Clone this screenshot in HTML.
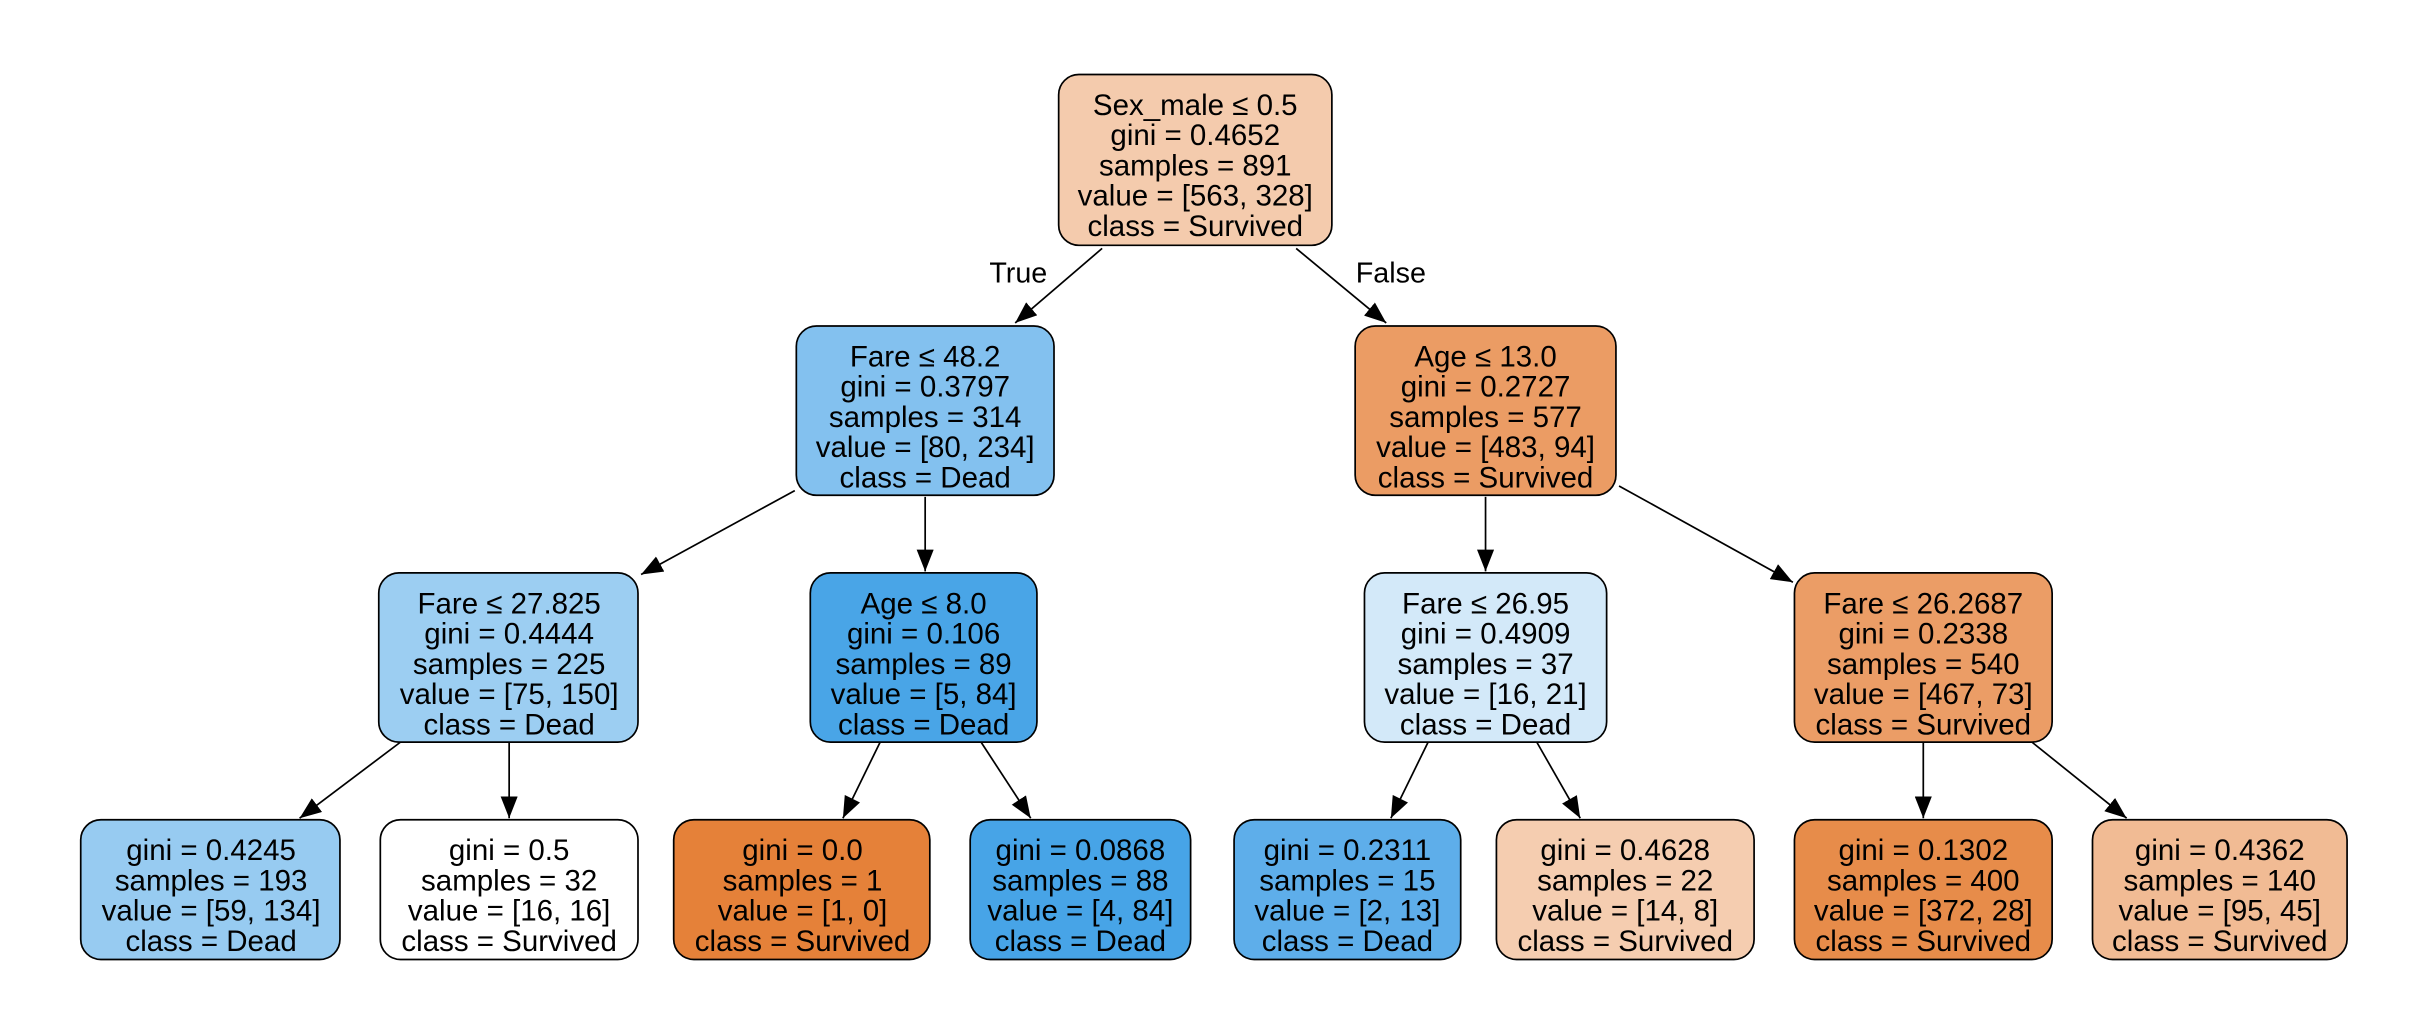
<!DOCTYPE html>
<html><head><meta charset="utf-8"><style>html,body{margin:0;padding:0;background:#fff}svg{display:block}</style></head><body>
<svg width="2434" height="1034" viewBox="0 0 1568 666" preserveAspectRatio="none" xmlns="http://www.w3.org/2000/svg">
<defs><marker id="a" viewBox="0 0 14 11" refX="14" refY="5.5" markerWidth="14" markerHeight="11" markerUnits="userSpaceOnUse" orient="auto"><path d="M0,0L14,5.5L0,11z" fill="#000"/></marker></defs>
<g stroke="#000" stroke-width="1.1" marker-end="url(#a)">
<line x1="710" y1="160" x2="654" y2="208"/>
<line x1="835" y1="160" x2="893" y2="208"/>
<line x1="512" y1="316" x2="413" y2="370"/>
<line x1="596" y1="320" x2="596" y2="368"/>
<line x1="957" y1="320" x2="957" y2="368"/>
<line x1="1043" y1="313" x2="1155" y2="375"/>
<line x1="258" y1="478" x2="193" y2="527"/>
<line x1="328" y1="478" x2="328" y2="527"/>
<line x1="567" y1="478" x2="543" y2="527"/>
<line x1="632" y1="478" x2="664" y2="527"/>
<line x1="920" y1="478" x2="896" y2="527"/>
<line x1="990" y1="478" x2="1018" y2="527"/>
<line x1="1239" y1="478" x2="1239" y2="527"/>
<line x1="1309" y1="478" x2="1370" y2="527"/>
</g>
<g font-family="Liberation Sans, sans-serif" font-size="18.5" text-anchor="middle" fill="#000">
<text x="656" y="182">True</text><text x="896" y="182">False</text>
</g>
<g stroke="#000" stroke-width="1.1">
<rect x="682" y="48" width="176" height="110" rx="13" fill="#f4cbad"/>
<rect x="513" y="210" width="166" height="109" rx="13" fill="#83c1ef"/>
<rect x="873" y="210" width="168" height="109" rx="13" fill="#eb9c64"/>
<rect x="244" y="369" width="167" height="109" rx="13" fill="#9ccef2"/>
<rect x="522" y="369" width="146" height="109" rx="13" fill="#49a5e7"/>
<rect x="879" y="369" width="156" height="109" rx="13" fill="#d3e9f9"/>
<rect x="1156" y="369" width="166" height="109" rx="13" fill="#eb9d66"/>
<rect x="52" y="528" width="167" height="90" rx="13" fill="#97cbf1"/>
<rect x="245" y="528" width="166" height="90" rx="13" fill="#ffffff"/>
<rect x="434" y="528" width="165" height="90" rx="13" fill="#e58139"/>
<rect x="625" y="528" width="142" height="90" rx="13" fill="#47a4e7"/>
<rect x="795" y="528" width="146" height="90" rx="13" fill="#5eaeea"/>
<rect x="964" y="528" width="166" height="90" rx="13" fill="#f5cdb0"/>
<rect x="1156" y="528" width="166" height="90" rx="13" fill="#e78c4a"/>
<rect x="1348" y="528" width="164" height="90" rx="13" fill="#f1bb94"/>
</g>
<g font-family="Liberation Sans, sans-serif" font-size="19" text-anchor="middle" fill="#000">
<text x="770" y="74">Sex_male ≤ 0.5</text><text x="770" y="93.5">gini = 0.4652</text><text x="770" y="113">samples = 891</text><text x="770" y="132.5">value = [563, 328]</text><text x="770" y="152">class = Survived</text>
<text x="596" y="236">Fare ≤ 48.2</text><text x="596" y="255.5">gini = 0.3797</text><text x="596" y="275">samples = 314</text><text x="596" y="294.5">value = [80, 234]</text><text x="596" y="314">class = Dead</text>
<text x="957" y="236">Age ≤ 13.0</text><text x="957" y="255.5">gini = 0.2727</text><text x="957" y="275">samples = 577</text><text x="957" y="294.5">value = [483, 94]</text><text x="957" y="314">class = Survived</text>
<text x="328" y="395">Fare ≤ 27.825</text><text x="328" y="414.5">gini = 0.4444</text><text x="328" y="434">samples = 225</text><text x="328" y="453.5">value = [75, 150]</text><text x="328" y="473">class = Dead</text>
<text x="595" y="395">Age ≤ 8.0</text><text x="595" y="414.5">gini = 0.106</text><text x="595" y="434">samples = 89</text><text x="595" y="453.5">value = [5, 84]</text><text x="595" y="473">class = Dead</text>
<text x="957" y="395">Fare ≤ 26.95</text><text x="957" y="414.5">gini = 0.4909</text><text x="957" y="434">samples = 37</text><text x="957" y="453.5">value = [16, 21]</text><text x="957" y="473">class = Dead</text>
<text x="1239" y="395">Fare ≤ 26.2687</text><text x="1239" y="414.5">gini = 0.2338</text><text x="1239" y="434">samples = 540</text><text x="1239" y="453.5">value = [467, 73]</text><text x="1239" y="473">class = Survived</text>
<text x="136" y="554">gini = 0.4245</text><text x="136" y="573.5">samples = 193</text><text x="136" y="593">value = [59, 134]</text><text x="136" y="612.5">class = Dead</text>
<text x="328" y="554">gini = 0.5</text><text x="328" y="573.5">samples = 32</text><text x="328" y="593">value = [16, 16]</text><text x="328" y="612.5">class = Survived</text>
<text x="517" y="554">gini = 0.0</text><text x="517" y="573.5">samples = 1</text><text x="517" y="593">value = [1, 0]</text><text x="517" y="612.5">class = Survived</text>
<text x="696" y="554">gini = 0.0868</text><text x="696" y="573.5">samples = 88</text><text x="696" y="593">value = [4, 84]</text><text x="696" y="612.5">class = Dead</text>
<text x="868" y="554">gini = 0.2311</text><text x="868" y="573.5">samples = 15</text><text x="868" y="593">value = [2, 13]</text><text x="868" y="612.5">class = Dead</text>
<text x="1047" y="554">gini = 0.4628</text><text x="1047" y="573.5">samples = 22</text><text x="1047" y="593">value = [14, 8]</text><text x="1047" y="612.5">class = Survived</text>
<text x="1239" y="554">gini = 0.1302</text><text x="1239" y="573.5">samples = 400</text><text x="1239" y="593">value = [372, 28]</text><text x="1239" y="612.5">class = Survived</text>
<text x="1430" y="554">gini = 0.4362</text><text x="1430" y="573.5">samples = 140</text><text x="1430" y="593">value = [95, 45]</text><text x="1430" y="612.5">class = Survived</text>
</g>
</svg>
</body></html>
